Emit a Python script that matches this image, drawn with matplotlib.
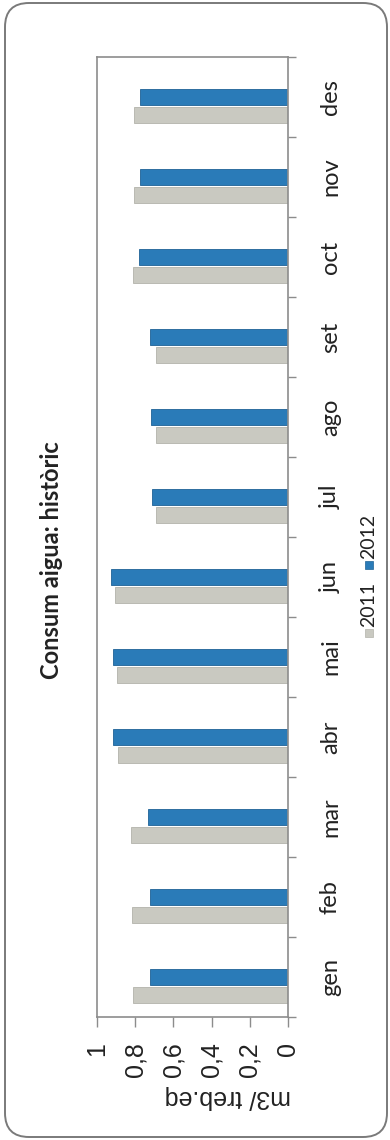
import matplotlib
matplotlib.use("Agg")
import matplotlib.pyplot as plt
import numpy as np
from matplotlib.patches import FancyBboxPatch, Rectangle

# Monthly water consumption (m3 per equivalent worker)
months = ["gen", "feb", "mar", "abr", "mai", "jun", "jul", "ago", "set", "oct", "nov", "des"]
consum_2011 = [0.81, 0.815, 0.82, 0.89, 0.895, 0.905, 0.69, 0.69, 0.69, 0.81, 0.805, 0.805]
consum_2012 = [0.72, 0.72, 0.735, 0.915, 0.915, 0.925, 0.71, 0.715, 0.72, 0.78, 0.775, 0.775]
value_ticks = [0, 0.2, 0.4, 0.6, 0.8, 1]
value_labels = ["0", "0,2", "0,4", "0,6", "0,8", "1"]
series_names = ["2011", "2012"]

col_2011, edge_2011 = "#C9C9C1", "#B3B3AB"
col_2012, edge_2012 = "#2A7BB8", "#1E6296"
axis_grey = "#8C8C8C"
text_col = "#222222"

W, H = 390, 1140
fig = plt.figure(figsize=(W / 100, H / 100), dpi=100)


def fx(px):
    return px / W


def fy(py):
    return 1 - py / H


# rounded frame around the whole chart
frame = FancyBboxPatch((0.05, 0.03), 3.82, 11.34,
                       boxstyle="round,pad=0,rounding_size=0.24",
                       transform=fig.dpi_scale_trans, facecolor="white",
                       edgecolor="#7A7A7A", linewidth=1.4, zorder=0)
fig.add_artist(frame)

ax = fig.add_axes([fx(97), fy(1017), fx(288) - fx(97), fy(57) - fy(1017)])
ax.set_facecolor("none")
pos = np.arange(len(months))
ax.barh(pos - 0.22, consum_2011, height=0.2, color=col_2011,
        edgecolor=edge_2011, linewidth=0.6, label=series_names[0])
ax.barh(pos, consum_2012, height=0.2, color=col_2012,
        edgecolor=edge_2012, linewidth=0.6, label=series_names[1])

ax.set_xlim(1, 0)
ax.set_ylim(-0.5, len(months) - 0.5)

for s in ax.spines.values():
    s.set_color(axis_grey)
    s.set_linewidth(1.2)

# value axis along the bottom
ax.set_xticks(value_ticks)
ax.set_xticklabels(value_labels, rotation=90, va="top",
                   fontsize=18, family="Liberation Sans", color=text_col)
ax.tick_params(axis="x", length=7, width=1, direction="out",
               color=axis_grey, pad=11)

# month axis along the right side
ax.yaxis.tick_right()
ax.set_yticks(pos)
ax.set_yticklabels(months, rotation=90, va="center", ha="left",
                   fontsize=17, family="Lato", color=text_col)
ax.set_yticks(np.arange(-0.5, len(months), 1), minor=True)
ax.tick_params(axis="y", which="major", length=0, pad=23)
ax.tick_params(axis="y", which="minor", length=6, width=1,
               direction="out", color=axis_grey)

# axis title
fig.text(fx(228), fy(1097), "m3/ treb.eq", rotation=180, ha="center",
         va="center", fontsize=18, family="Liberation Sans", color=text_col)

# chart title
fig.text(fx(52), fy(560), "Consum aigua: històric", rotation=90,
         ha="center", va="center", fontsize=17, fontweight="bold",
         family="Lato", color=text_col)

# legend
legend_x = 369
for name, face, edge, sq_y, txt_y in [
        (series_names[0], col_2011, edge_2011, 633, 627),
        (series_names[1], col_2012, edge_2012, 565, 559)]:
    fig.add_artist(Rectangle(((legend_x - 4) / 100, (H - sq_y - 4) / 100),
                             0.08, 0.08, transform=fig.dpi_scale_trans,
                             facecolor=face, edgecolor=edge, linewidth=0.5))
    fig.text(fx(legend_x), fy(txt_y), name, rotation=90, ha="center",
             va="bottom", fontsize=14, family="Lato", color=text_col)

fig.savefig("out.png", dpi=100)
